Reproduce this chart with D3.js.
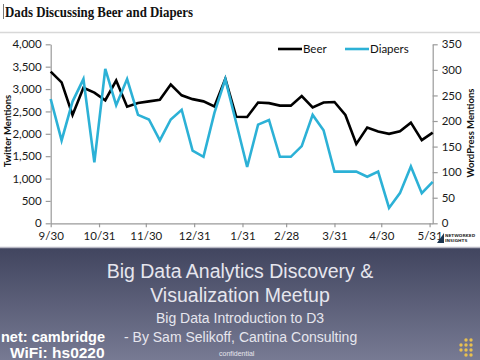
<!DOCTYPE html>
<html><head><meta charset="utf-8">
<script src="https://cdn.jsdelivr.net/npm/d3@7"></script>
<style>
html,body{margin:0;padding:0;background:#fff;}
svg{display:block;}
</style></head>
<body>
<svg id="c" width="480" height="360"></svg>
<script>
const dates = ["2012-09-30","2012-10-07","2012-10-14","2012-10-21","2012-10-28","2012-11-04","2012-11-11","2012-11-18","2012-11-25","2012-12-02","2012-12-09","2012-12-16","2012-12-23","2012-12-30","2013-01-06","2013-01-13","2013-01-20","2013-01-27","2013-02-03","2013-02-10","2013-02-17","2013-02-24","2013-03-03","2013-03-10","2013-03-17","2013-03-24","2013-03-31","2013-04-07","2013-04-14","2013-04-21","2013-04-28","2013-05-05","2013-05-12","2013-05-19","2013-05-26","2013-06-02"];
const beer = [3390,3150,2420,3030,2920,2750,3190,2605,2690,2725,2760,3100,2860,2775,2725,2610,3230,2380,2375,2700,2685,2630,2630,2845,2590,2700,2710,2420,1775,2140,2050,2000,2055,2250,1860,2025];
const diapers = [243,162,238,282,119,302,231,282,212,203,162,203,222,142,130,216,282,196,110,193,202,130,130,151,212,182,101,101,101,91,101,30,59,111,59,81];
const tickDates = ["2012-09-30","2012-10-31","2012-11-30","2012-12-31","2013-01-31","2013-02-28","2013-03-31","2013-04-30","2013-05-31"];
const tickLabels = ["9/30","10/31","11/30","12/31","1/31","2/28","3/31","4/30","5/31"];
const leftTicks = [0,500,1000,1500,2000,2500,3000,3500,4000];
const rightTicks = [0,50,100,150,200,250,300,350];
const seriesNames = ["Beer","Diapers"];

const parse = d3.utcParse("%Y-%m-%d");
const svg = d3.select("#c");

// slide background
const defs = svg.append("defs");
const g = defs.append("linearGradient").attr("id","bg").attr("x1",0).attr("y1",0).attr("x2",0).attr("y2",1);
g.append("stop").attr("offset","0%").attr("stop-color","#41455f");
g.append("stop").attr("offset","100%").attr("stop-color","#777a93");
svg.append("rect").attr("x",0).attr("y",248).attr("width",480).attr("height",112).attr("fill","url(#bg)");
svg.append("line").attr("x1",0).attr("x2",480).attr("y1",247.5).attr("y2",247.5).attr("stroke","#b8b8c4").attr("stroke-width",1.5);
svg.append("line").attr("x1",0).attr("x2",480).attr("y1",32.5).attr("y2",32.5).attr("stroke","#d8d8d8").attr("stroke-width",1.5);

// title
svg.append("line").attr("x1",3.5).attr("x2",3.5).attr("y1",4).attr("y2",19).attr("stroke","#777").attr("stroke-width",1);
svg.append("text").attr("x",5).attr("y",16.5).attr("font-family","Liberation Serif").attr("font-weight","bold")
  .attr("font-size",14.5).attr("textLength",188).attr("lengthAdjust","spacingAndGlyphs")
  .attr("fill","#111").text("Dads Discussing Beer and Diapers");

const x = d3.scaleUtc().domain([parse(dates[0]), parse(dates[dates.length-1])]).range([50.7, 432.7]);
const yL = d3.scaleLinear().domain([0,4000]).range([223.3,44.3]);
const yR = d3.scaleLinear().domain([0,350]).range([223.3,44.3]);

const font = "Lato";
const axisColor = "#9a9a9a";

function styleAxis(sel){
  sel.selectAll(".domain").attr("stroke",axisColor).attr("stroke-width",1.2);
  sel.selectAll(".tick line").attr("stroke",axisColor).attr("stroke-width",1.2);
  sel.selectAll("text").attr("font-family",font).attr("font-size",11.5).attr("fill","#1a1a1a");
}

const ax = svg.append("g").attr("transform","translate(0,223.3)")
  .call(d3.axisBottom(x).tickValues(tickDates.map(parse)).tickFormat((d,i)=>tickLabels[i]).tickSizeInner(4).tickSizeOuter(0).tickPadding(5));
styleAxis(ax);
const al = svg.append("g").attr("transform","translate(50.7,0)")
  .call(d3.axisLeft(yL).tickValues(leftTicks).tickFormat(d3.format(",")).tickSizeInner(5).tickSizeOuter(0).tickPadding(4));
styleAxis(al);
const ar = svg.append("g").attr("transform","translate(432.7,0)")
  .call(d3.axisRight(yR).tickValues(rightTicks).tickSizeInner(5).tickSizeOuter(0).tickPadding(4));
styleAxis(ar);

// axis titles
svg.append("text").attr("transform","translate(11,131) rotate(-90)").attr("text-anchor","middle")
  .attr("font-family",font).attr("font-weight","bold").attr("font-size",9.5).attr("fill","#111").text("Twitter Mentions");
svg.append("text").attr("transform","translate(474,133) rotate(-90)").attr("text-anchor","middle")
  .attr("font-family",font).attr("font-weight","bold").attr("font-size",9.5).attr("fill","#111").text("WordPress Mentions");

const colors = ["#000000","#2cb1d6"];
const lineL = d3.line().x((d,i)=>x(parse(dates[i]))).y(d=>yL(d));
const lineR = d3.line().x((d,i)=>x(parse(dates[i]))).y(d=>yR(d));
svg.append("path").datum(beer).attr("d",lineL).attr("fill","none").attr("stroke",colors[0]).attr("stroke-width",2.6).attr("stroke-linejoin","miter");
svg.append("path").datum(diapers).attr("d",lineR).attr("fill","none").attr("stroke",colors[1]).attr("stroke-width",2.6).attr("stroke-linejoin","miter");

// legend
const leg = [{x:278},{x:345}];
seriesNames.forEach((n,i)=>{
  svg.append("line").attr("x1",leg[i].x).attr("x2",leg[i].x+24).attr("y1",49).attr("y2",49).attr("stroke",colors[i]).attr("stroke-width",2.6);
  svg.append("text").attr("x",leg[i].x+25).attr("y",53).attr("font-family",font).attr("font-size",11.5).attr("fill","#111").text(n);
});

// small logo
const lg = svg.append("g").attr("transform","translate(437,232)");
lg.append("path").attr("d","M0,11 L7,1 L7,11 Z").attr("fill","#1c3550");
lg.append("text").attr("x",8).attr("y",5).attr("font-family","DejaVu Sans").attr("font-weight","bold").attr("font-size",4.2).attr("fill","#333").text("NETWORKED");
lg.append("text").attr("x",8).attr("y",10).attr("font-family","DejaVu Sans").attr("font-weight","bold").attr("font-size",4.2).attr("fill","#333").text("INSIGHTS");

// slide texts
const tf = "Liberation Sans";
svg.append("text").attr("x",240).attr("y",278).attr("text-anchor","middle").attr("font-family",tf).attr("font-size",19.5).attr("fill","#e6e6ee").text("Big Data Analytics Discovery &");
svg.append("text").attr("x",240).attr("y",302).attr("text-anchor","middle").attr("font-family",tf).attr("font-size",19.5).attr("fill","#e6e6ee").text("Visualization Meetup");
svg.append("text").attr("x",240).attr("y",322.5).attr("text-anchor","middle").attr("font-family",tf).attr("font-size",14).attr("fill","#e6e6ee").text("Big Data Introduction to D3");
svg.append("text").attr("x",124).attr("y",341.5).attr("font-family",tf).attr("font-size",14).attr("fill","#e6e6ee").text("- By Sam Selikoff, Cantina Consulting");
svg.append("text").attr("x",1).attr("y",341.5).attr("font-family",tf).attr("font-weight","bold").attr("font-size",14.5)
  .attr("textLength",104).attr("lengthAdjust","spacingAndGlyphs").attr("fill","#ffffff").text("net: cambridge");
svg.append("text").attr("x",10).attr("y",358).attr("font-family",tf).attr("font-weight","bold").attr("font-size",15.5).attr("fill","#ffffff").text("WiFi: hs0220");
svg.append("text").attr("x",219).attr("y",356).attr("font-family",tf).attr("font-size",7).attr("fill","#e6e6ee").text("confidential");

// dot logo
const dots = [[0,0],[1,0],[-1,1],[0,1],[1,1],[-1,2],[0,2],[1,2],[0,3],[1,3]];
svg.append("g").selectAll("circle").data(dots).join("circle")
  .attr("cx",d=>466+d[0]*5).attr("cy",d=>340+d[1]*5).attr("r",1.7).attr("fill","#e8c050");
</script>
</body></html>
